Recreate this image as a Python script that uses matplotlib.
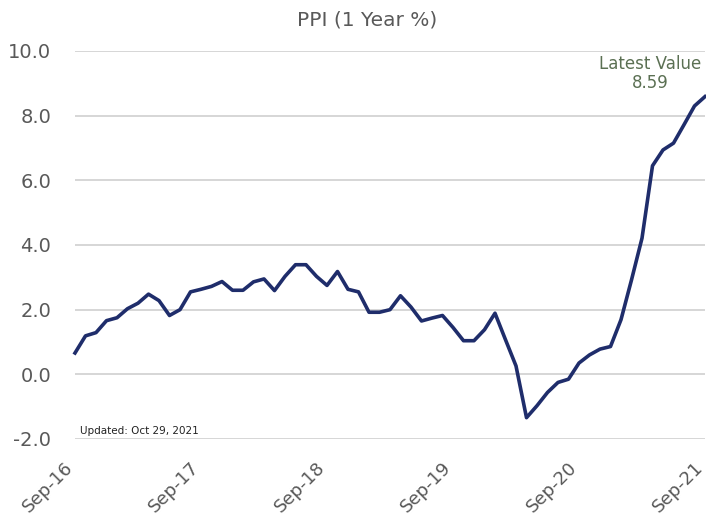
import matplotlib
matplotlib.use("Agg")
import matplotlib.pyplot as plt
import matplotlib.transforms as mtransforms
import numpy as np

plt.rcParams["font.family"] = ["DejaVu Sans"]

title = "PPI (1 Year %)"
tick_labels = ["Sep-16", "Sep-17", "Sep-18", "Sep-19", "Sep-20", "Sep-21"]
y_ticks = [-2.0, 0.0, 2.0, 4.0, 6.0, 8.0, 10.0]

ppi_2016 = [0.66, 1.19, 1.29, 1.66]
ppi_2017 = [1.75, 2.03, 2.20, 2.48, 2.28, 1.82, 2.00, 2.55, 2.63, 2.72, 2.87, 2.60]
ppi_2018 = [2.60, 2.86, 2.95, 2.59, 3.03, 3.39, 3.39, 3.03, 2.75, 3.18, 2.63, 2.55]
ppi_2019 = [1.92, 1.92, 2.00, 2.43, 2.08, 1.65, 1.74, 1.82, 1.45, 1.04, 1.04, 1.38]
ppi_2020 = [1.89, 1.07, 0.26, -1.34, -0.97, -0.56, -0.25, -0.15, 0.35, 0.60, 0.78, 0.86]
ppi_2021 = [1.69, 2.92, 4.21, 6.45, 6.94, 7.15, 7.72, 8.30, 8.59]

values = ppi_2016 + ppi_2017 + ppi_2018 + ppi_2019 + ppi_2020 + ppi_2021
months = np.arange(len(values))
latest = values[-1]

fig = plt.figure(figsize=(7.06, 5.15), dpi=100)
ax = fig.add_axes([75/706, 1-439/515, 630/706, 388/515])

for yv in y_ticks:
    ax.axhline(yv, color="#cfcfcf", lw=1.2, zorder=1)

ax.plot(months, values, color="#1f2d6b", lw=2.6, zorder=3, clip_on=False,
        solid_joinstyle="round")

ax.set_xlim(0, len(values) - 1)
ax.set_ylim(-2, 10)
ax.set_yticks(y_ticks)
ax.set_yticklabels([f"{v:.1f}" for v in y_ticks], fontsize=14, color="#595959")
ax.set_xticks(np.arange(0, len(values), 12))
ax.set_xticklabels(tick_labels, fontsize=13, color="#595959", rotation=45,
                   ha="right", va="top", rotation_mode="anchor")
ax.tick_params(length=0, axis="y", pad=17)
ax.tick_params(length=0, axis="x", pad=4)
offset = mtransforms.ScaledTranslation(-0.11, -0.14, fig.dpi_scale_trans)
for lbl in ax.get_xticklabels():
    lbl.set_transform(lbl.get_transform() + offset)
for s in ax.spines.values():
    s.set_visible(False)

fig.text(367/706, 1-20/515, title, ha="center", va="center", fontsize=14.5,
         color="#595959")
fig.text(650/706, 1-55/515, f"Latest Value\n{latest:.2f}",
         ha="center", va="top", fontsize=12, color="#5b7053", multialignment="center",
         linespacing=1.05)
ax.text(0.008, -1.9, "Updated: Oct 29, 2021", ha="left", va="bottom", fontsize=7.5,
        color="#222222", transform=ax.get_yaxis_transform())

fig.savefig("out.png", dpi=100, facecolor="white")
